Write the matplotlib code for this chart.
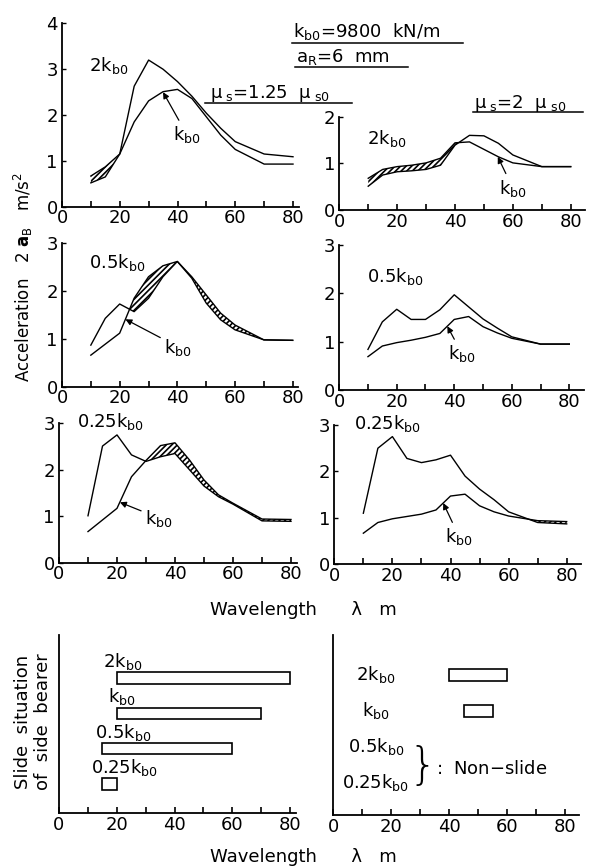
import matplotlib
matplotlib.use('Agg')
import matplotlib.pyplot as plt
from matplotlib.lines import Line2D

plt.rcParams['font.family'] = ['DejaVu Sans']
plt.rcParams['mathtext.default'] = 'regular'
plt.rcParams['hatch.linewidth'] = 1.2

# wavelength (m)
wl = [10, 15, 20, 25, 30, 35, 40, 45, 50, 55, 60, 70, 80]

# mu_s = 1.25 mu_s0
k2_tl = [0.52, 0.65, 1.15, 2.63, 3.20, 3.00, 2.73, 2.41, 2.04, 1.71, 1.42, 1.15, 1.09]
k1_tl = [0.67, 0.87, 1.15, 1.85, 2.31, 2.51, 2.56, 2.36, 1.96, 1.56, 1.25, 0.93, 0.93]
k05_ml = [0.87, 1.43, 1.73, 1.57, 1.85, 2.30, 2.62, 2.27, 1.75, 1.40, 1.19, 0.98, 0.97]
k1_ml = [0.66, 0.89, 1.12, 1.85, 2.30, 2.53, 2.62, 2.30, 1.92, 1.54, 1.29, 0.98, 0.97]
k025_bl = [1.01, 2.51, 2.75, 2.32, 2.18, 2.28, 2.35, 2.00, 1.65, 1.42, 1.26, 0.90, 0.89]
k1_bl = [0.67, 0.92, 1.17, 1.85, 2.20, 2.52, 2.58, 2.21, 1.78, 1.46, 1.28, 0.94, 0.93]

# mu_s = 2 mu_s0
k2_tr = [0.51, 0.75, 0.82, 0.84, 0.87, 0.96, 1.39, 1.60, 1.59, 1.43, 1.18, 0.93, 0.93]
k1_tr = [0.68, 0.87, 0.93, 0.96, 1.01, 1.11, 1.44, 1.46, 1.30, 1.14, 1.01, 0.93, 0.93]
k05_mr = [0.84, 1.41, 1.67, 1.46, 1.46, 1.66, 1.97, 1.72, 1.47, 1.28, 1.10, 0.95, 0.95]
k1_mr = [0.69, 0.91, 0.98, 1.03, 1.09, 1.17, 1.46, 1.52, 1.31, 1.18, 1.07, 0.95, 0.95]
k025_br = [1.10, 2.50, 2.75, 2.28, 2.19, 2.25, 2.35, 1.90, 1.62, 1.39, 1.13, 0.90, 0.87]
k1_br = [0.67, 0.90, 0.98, 1.03, 1.08, 1.17, 1.47, 1.51, 1.26, 1.13, 1.04, 0.94, 0.92]

# slide ranges of side bearer (start, end) in m
slide_labels = ['2k$_{b0}$', 'k$_{b0}$', '0.5k$_{b0}$', '0.25k$_{b0}$']
slide_125 = [(20, 80), (20, 70), (15, 60), (15, 20)]
slide_2 = [(40, 60), (45, 55)]

W, H = 592, 868
fig = plt.figure(figsize=(W / 100, H / 100), dpi=100)
FS = 13


def make_ax(x0, x80, ybot, ytop, ymax, xmax, ymin=0):
    # axes placed from pixel positions of x=0, x=80, y=ymin and y=ymax
    sx = (x80 - x0) / 80
    ax = fig.add_axes([x0 / W, 1 - ybot / H, xmax * sx / W, (ybot - ytop) / H])
    ax.set_xlim(0, xmax)
    ax.set_ylim(ymin, ymax)
    for s in ['top', 'right']:
        ax.spines[s].set_visible(False)
    for s in ['left', 'bottom']:
        ax.spines[s].set_linewidth(1.3)
    ax.set_xticks(range(0, 81, 20))
    ax.set_xticks(range(10, 80, 20), minor=True)
    ax.tick_params(axis='x', which='both', direction='in', length=4, width=1.2,
                   labelsize=FS, pad=2)
    ax.set_facecolor('none')
    return ax


def curve_panel(ax, base, other, ymax, label, lpos, klab, ktip):
    ax.plot(wl, base, color='black', lw=1.0)
    ax.plot(wl, other, color='black', lw=1.0)
    ax.fill_between(wl, base, other, where=[b > o for b, o in zip(base, other)],
                    interpolate=True, facecolor='none', edgecolor='black',
                    hatch='//////', linewidth=0)
    ax.set_yticks(range(0, ymax + 1))
    ax.tick_params(axis='y', direction='in', length=3, width=1.0, labelsize=FS, pad=3)
    ax.text(lpos[0], lpos[1], label, fontsize=FS, ha='center', va='center')
    ax.annotate('k$_{b0}$', xy=ktip, xytext=klab, fontsize=FS, ha='center', va='center',
                arrowprops=dict(arrowstyle='-|>', color='black', lw=0.9,
                                mutation_scale=9, shrinkA=1, shrinkB=0))


ax = make_ax(62, 293, 206.7, 23.4, 4, 82)
curve_panel(ax, k1_tl, k2_tl, 4, '2k$_{b0}$', (16.3, 3.09), (43.3, 1.57), (35, 2.5))

ax = make_ax(339.3, 570.7, 210, 116.7, 2, 85)
curve_panel(ax, k1_tr, k2_tr, 2, '2k$_{b0}$', (16.2, 1.54), (60, 0.47), (54.8, 1.14))

ax = make_ax(62, 292.7, 386.7, 243.3, 3, 82)
curve_panel(ax, k1_ml, k05_ml, 3, '0.5k$_{b0}$', (19.1, 2.59), (40.3, 0.83), (22, 1.41))

ax = make_ax(339.2, 569.3, 390, 245, 3, 85)
curve_panel(ax, k1_mr, k05_mr, 3, '0.5k$_{b0}$', (19.4, 2.34), (42.7, 0.75), (37.6, 1.32))

ax = make_ax(59, 291, 562.7, 423.3, 3, 82)
curve_panel(ax, k1_bl, k025_bl, 3, '0.25k$_{b0}$', (17.6, 3.03), (34.5, 0.96), (21, 1.3))

ax = make_ax(334.3, 566.7, 564.3, 425, 3, 85)
curve_panel(ax, k1_br, k025_br, 3, '0.25k$_{b0}$', (18.2, 3.04), (43, 0.59), (37.5, 1.32))

# slide situation, mu_s = 1.25 mu_s0
ax = make_ax(59, 290, 813, 635, 5.22, 82, ymin=0.18)
ax.set_yticks([])
pos = [4, 3, 2, 1]
lab_x = [15.4, 16.8, 12.6, 11]
for p, (a, b), lab, lx in zip(pos, slide_125, slide_labels, lab_x):
    ax.barh(p, b - a, left=a, height=0.32, facecolor='white', edgecolor='black', lw=1.2)
    ax.text(lx, p + 0.47, lab, fontsize=FS, ha='left', va='center')

# slide situation, mu_s = 2 mu_s0
ax = make_ax(333.3, 565, 815, 635, 5.11, 85, ymin=0.11)
ax.set_yticks([])
for p, (a, b) in zip(pos, slide_2):
    ax.barh(p, b - a, left=a, height=0.33, facecolor='white', edgecolor='black', lw=1.2)
for p, lab in zip(pos, slide_labels):
    ax.text(14.7, p, lab, fontsize=FS, ha='center', va='center')
ax.text(31, 1.47, '}', fontsize=32, ha='center', va='center', fontweight='light')
ax.text(35.5, 1.4, ':  Non$-$slide', fontsize=FS, ha='left', va='center')


def ftext(x, y, s, **kw):
    fig.text(x / W, 1 - y / H, s, **kw)


def uline(x1, x2, y):
    fig.add_artist(Line2D([x1 / W, x2 / W], [1 - y / H, 1 - y / H], color='black',
                          lw=1.1, transform=fig.transFigure))


ftext(293, 32, 'k$_{b0}$=9800  kN/m', fontsize=FS, ha='left', va='center')
uline(292, 463, 43)
ftext(296, 57, 'a$_R$=6  mm', fontsize=FS, ha='left', va='center')
uline(295, 408, 67)
ftext(210, 94, '$\\mu_{\\ s}$=1.25  $\\mu_{\\ s0}$', fontsize=FS, ha='left', va='center')
uline(205, 352, 103)
ftext(474, 104, '$\\mu_{\\ s}$=2  $\\mu_{\\ s0}$', fontsize=FS, ha='left', va='center')
uline(473, 583, 112)

ftext(23, 277, 'Acceleration   2 $\\mathbf{a}_B$   m/s$^2$', fontsize=12, rotation=90,
      ha='center', va='center')
ftext(210, 610, 'Wavelength      \u03bb   m', fontsize=FS, ha='left', va='center')
ftext(210, 857, 'Wavelength      \u03bb   m', fontsize=FS, ha='left', va='center')
ftext(33, 722, 'Slide  situation\nof  side  bearer', fontsize=FS, rotation=90,
      ha='center', va='center', linespacing=1.1)

fig.savefig('out.png', dpi=100)
